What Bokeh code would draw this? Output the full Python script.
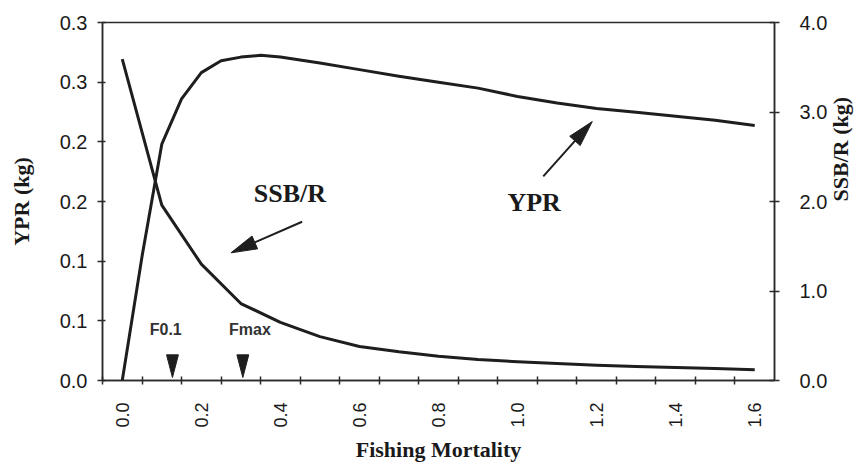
import math
from bokeh.plotting import figure
from bokeh.models import (Range1d, LinearAxis, FixedTicker, Label, CustomJSTickFormatter)
from bokeh.embed import file_html
from bokeh.resources import INLINE

# ---------------- data ----------------
F = [0.0, 0.1, 0.2, 0.3, 0.4, 0.5, 0.6, 0.7, 0.8, 0.9, 1.0, 1.1, 1.2, 1.3, 1.4, 1.5, 1.6]
ssb_r = [3.59, 1.96, 1.30, 0.86, 0.65, 0.49, 0.38, 0.32, 0.27, 0.235, 0.21,
         0.19, 0.17, 0.156, 0.145, 0.134, 0.12]
ypr_F = [0.0, 0.05, 0.1, 0.15, 0.2, 0.25, 0.3, 0.35, 0.4, 0.5, 0.6, 0.7, 0.8,
         0.9, 1.0, 1.1, 1.2, 1.3, 1.4, 1.5, 1.6]
ypr = [0.0, 0.104, 0.198, 0.236, 0.258, 0.268, 0.271, 0.2725, 0.271, 0.266,
       0.2605, 0.255, 0.250, 0.245, 0.238, 0.2325, 0.228, 0.2247, 0.2214, 0.218, 0.2136]

ref_names = ["F0.1", "Fmax"]
ref_F = [0.127, 0.305]

x_tick_values = [0.0, 0.2, 0.4, 0.6, 0.8, 1.0, 1.2, 1.4, 1.6]
x_tick_labels = ["0.0", "0.2", "0.4", "0.6", "0.8", "1.0", "1.2", "1.4", "1.6"]
left_tick_values = [0.0, 0.05, 0.10, 0.15, 0.20, 0.25, 0.30]
left_tick_labels = ["0.0", "0.1", "0.1", "0.2", "0.2", "0.3", "0.3"]
right_tick_values = [0.0, 1.0, 2.0, 3.0, 4.0]
right_tick_labels = ["0.0", "1.0", "2.0", "3.0", "4.0"]

# arrows (start F, start YPR, end F, end YPR)
ssb_arrow = [0.455, 0.133, 0.275, 0.107]
ypr_arrow = [1.065, 0.171, 1.189, 0.217]

INK = "#1e1e1e"
AX = "#2a2a2a"
TXT = "#1a1a1a"

FW, FH = 672, 358
X0, X1, Y0, Y1 = -0.05, 1.65, 0.0, 0.3

p = figure(frame_width=FW, frame_height=FH,
           x_range=Range1d(X0, X1), y_range=Range1d(Y0, Y1),
           output_backend="svg", toolbar_location=None,
           min_border_left=102, min_border_right=80, min_border_top=22, min_border_bottom=81,
           background_fill_color="white", border_fill_color="white")
p.extra_y_ranges = {"ssb": Range1d(0, 4)}
p.outline_line_color = AX
p.outline_line_width = 1.5
p.xgrid.visible = False
p.ygrid.visible = False

# x axis (category-like: boundary ticks, centred labels)
x_bounds = [F[0] - 0.05] + [f + 0.05 for f in F]
xa = p.xaxis[0]
xa.ticker = FixedTicker(ticks=x_tick_values, minor_ticks=x_bounds)
xa.formatter = CustomJSTickFormatter(args=dict(labels=x_tick_labels), code="return labels[index]")
xa.major_tick_in = 0
xa.major_tick_out = 0
xa.minor_tick_in = 4
xa.minor_tick_out = 4
xa.minor_tick_line_color = AX
xa.minor_tick_line_width = 1.5
xa.axis_line_color = AX
xa.axis_line_width = 1.5
xa.major_label_orientation = math.pi / 2
xa.major_label_standoff = 18
xa.major_label_text_font = "Liberation Sans"
xa.major_label_text_font_size = "18px"
xa.major_label_text_color = TXT
xa.axis_label = "Fishing Mortality"
xa.axis_label_text_font = "Liberation Serif"
xa.axis_label_text_font_style = "bold"
xa.axis_label_text_font_size = "22px"
xa.axis_label_text_color = TXT
xa.axis_label_standoff = 6

# left axis
ya = p.yaxis[0]
ya.ticker = FixedTicker(ticks=left_tick_values)
ya.formatter = CustomJSTickFormatter(args=dict(labels=left_tick_labels), code="return labels[index]")
ya.major_tick_in = 3
ya.major_tick_out = 5
ya.major_tick_line_color = AX
ya.major_tick_line_width = 1.5
ya.minor_tick_line_color = None
ya.axis_line_color = AX
ya.axis_line_width = 1.5
ya.major_label_standoff = 10
ya.major_label_text_font = "Liberation Sans"
ya.major_label_text_font_size = "20px"
ya.major_label_text_color = TXT
ya.axis_label = "YPR (kg)"
ya.axis_label_text_font = "Liberation Serif"
ya.axis_label_text_font_style = "bold"
ya.axis_label_text_font_size = "22px"
ya.axis_label_text_color = TXT
ya.axis_label_standoff = 23

# right axis
ra = LinearAxis(y_range_name="ssb", ticker=FixedTicker(ticks=right_tick_values),
                formatter=CustomJSTickFormatter(args=dict(labels=right_tick_labels),
                                                code="return labels[index]"))
ra.major_tick_in = 5
ra.major_tick_out = 5
ra.major_tick_line_color = AX
ra.major_tick_line_width = 1.5
ra.minor_tick_line_color = None
ra.axis_line_color = AX
ra.axis_line_width = 1.5
ra.major_label_standoff = 20
ra.major_label_text_font = "Liberation Sans"
ra.major_label_text_font_size = "20px"
ra.major_label_text_color = TXT
ra.axis_label = "SSB/R (kg)"
ra.axis_label_text_font = "Liberation Serif"
ra.axis_label_text_font_style = "bold"
ra.axis_label_text_font_size = "22px"
ra.axis_label_text_color = TXT
ra.axis_label_standoff = 10
if hasattr(ra, "axis_label_orientation"):
    ra.axis_label_orientation = math.pi / 2
p.add_layout(ra, "right")

# curves
p.line(F, ssb_r, y_range_name="ssb", line_width=3, line_color=INK, line_join="round")
p.line(ypr_F, ypr, line_width=3, line_color=INK, line_join="round")

# reference point markers (downward triangles)
hw, base, tip = 0.015, 0.0215, 0.0025
p.patches(xs=[[f - hw, f + hw, f] for f in ref_F],
          ys=[[base, base, tip] for _ in ref_F],
          fill_color=INK, line_color=INK)
for name, f in zip(ref_names, ref_F):
    p.add_layout(Label(x=f - 0.017 if name == "F0.1" else f + 0.018, y=0.0427, text=name,
                       text_align="center", text_baseline="middle",
                       text_font="Liberation Sans", text_font_style="bold",
                       text_font_size="16px", text_color="#333333"))

# arrows with long slender heads (head drawn in screen proportions)
sx = FW / (X1 - X0)
sy = FH / (Y1 - Y0)
HEAD_LEN, HEAD_HALF = 26.0, 7.0
shaft_x, shaft_y, head_x, head_y = [], [], [], []
for a in (ssb_arrow, ypr_arrow):
    dx, dy = (a[2] - a[0]) * sx, (a[3] - a[1]) * sy
    d = math.hypot(dx, dy)
    ux, uy = dx / d, dy / d
    bx, by = a[2] * sx - HEAD_LEN * ux, a[3] * sy - HEAD_LEN * uy
    shaft_x.append([a[0], bx / sx])
    shaft_y.append([a[1], by / sy])
    head_x.append([a[2], (bx - HEAD_HALF * uy) / sx, (bx + HEAD_HALF * uy) / sx])
    head_y.append([a[3], (by + HEAD_HALF * ux) / sy, (by - HEAD_HALF * ux) / sy])
p.multi_line(xs=shaft_x, ys=shaft_y, line_width=2, line_color=INK)
p.patches(xs=head_x, ys=head_y, fill_color=INK, line_color=INK, line_width=1)

p.add_layout(Label(x=0.424, y=0.1566, text="SSB/R", text_align="center", text_baseline="middle",
                   text_font="Liberation Serif", text_font_style="bold",
                   text_font_size="26px", text_color=TXT))
p.add_layout(Label(x=1.042, y=0.149, text="YPR", text_align="center", text_baseline="middle",
                   text_font="Liberation Serif", text_font_style="bold",
                   text_font_size="26px", text_color=TXT))

open("out.html", "w").write(file_html(p, INLINE))
